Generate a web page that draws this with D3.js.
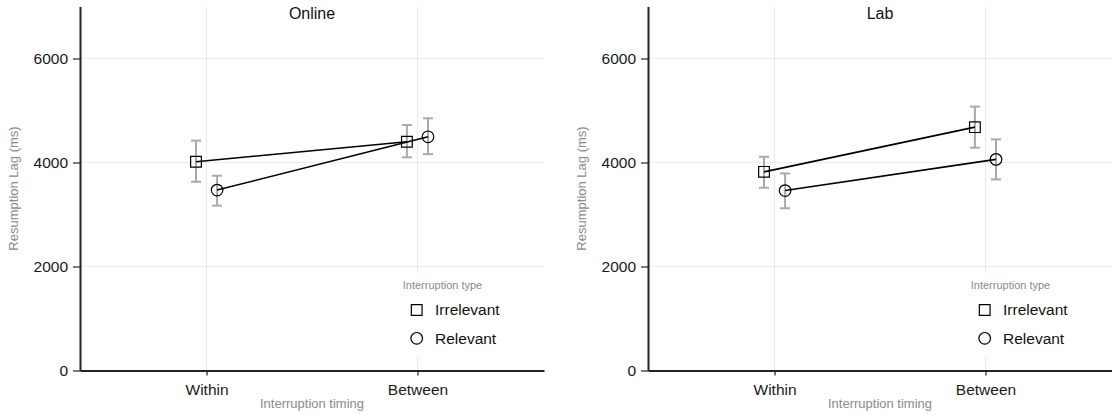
<!DOCTYPE html>
<html>
<head>
<meta charset="utf-8">
<script src="https://cdn.jsdelivr.net/npm/d3@7"></script>
<style>
  html, body { margin: 0; padding: 0; background: #fff; }
  svg { display: block; font-family: "Liberation Sans", Arial, Helvetica, sans-serif; }
</style>
</head>
<body>
<svg id="chart" width="1112" height="414"></svg>
<script>
// ---- data ----
const panels = ["Online", "Lab"];
const timings = ["Within", "Between"];
const types = ["Irrelevant", "Relevant"];
const yTicks = [0, 2000, 4000, 6000];

const onlineIrrMean = [4015, 4400];
const onlineIrrLow  = [3630, 4100];
const onlineIrrHigh = [4420, 4720];
const onlineRelMean = [3470, 4495];
const onlineRelLow  = [3170, 4160];
const onlineRelHigh = [3745, 4850];

const labIrrMean = [3820, 4680];
const labIrrLow  = [3515, 4285];
const labIrrHigh = [4110, 5075];
const labRelMean = [3460, 4060];
const labRelLow  = [3120, 3675];
const labRelHigh = [3790, 4445];

const seriesByPanel = {
  Online: [
    {type: "Irrelevant", mean: onlineIrrMean, low: onlineIrrLow, high: onlineIrrHigh},
    {type: "Relevant", mean: onlineRelMean, low: onlineRelLow, high: onlineRelHigh}
  ],
  Lab: [
    {type: "Irrelevant", mean: labIrrMean, low: labIrrLow, high: labIrrHigh},
    {type: "Relevant", mean: labRelMean, low: labRelLow, high: labRelHigh}
  ]
};

// ---- layout ----
const svg = d3.select("#chart");
const panelX = [80, 648];
const panelW = 464;
const yTop = 6.5, yBottom = 370.5;

const x = d3.scalePoint().domain(timings).range([0, panelW]).padding(0.6);
const y = d3.scaleLinear().domain([0, 7000]).range([yBottom, yTop]);
const dodge = d3.scaleOrdinal().domain(types).range([-0.05, 0.05]);
const symbolType = d3.scaleOrdinal().domain(types).range([d3.symbolSquare, d3.symbolCircle]);
const symbolSize = d3.scaleOrdinal().domain(types).range([115, 105]);

panels.forEach((p, pi) => {
  const g = svg.append("g").attr("transform", `translate(${panelX[pi]},0)`);
  const step = x.step();
  const px = (t, ty) => x(t) + dodge(ty) * step;

  // grid
  g.append("g").selectAll("line").data(yTicks.filter(d => d > 0)).join("line")
    .attr("x1", 0).attr("x2", panelW).attr("y1", d => y(d)).attr("y2", d => y(d))
    .attr("stroke", "#ebebeb").attr("stroke-width", 1);
  g.append("g").selectAll("line").data(timings).join("line")
    .attr("x1", d => x(d)).attr("x2", d => x(d)).attr("y1", yTop).attr("y2", yBottom)
    .attr("stroke", "#ebebeb").attr("stroke-width", 1);

  // legend background (covers grid)
  const lgX = 398 - 80, lgY = 273;
  g.append("rect").attr("x", lgX).attr("y", lgY).attr("width", 104).attr("height", 83)
    .attr("fill", "#fff");

  const series = seriesByPanel[p];

  // error bars
  series.forEach(s => {
    const eg = g.append("g").attr("stroke", "#aaaaaa").attr("stroke-width", 2).attr("fill", "none");
    timings.forEach((t, i) => {
      const cx = px(t, s.type);
      eg.append("line").attr("x1", cx).attr("x2", cx).attr("y1", y(s.low[i])).attr("y2", y(s.high[i]));
      eg.append("line").attr("x1", cx - 5).attr("x2", cx + 5).attr("y1", y(s.low[i])).attr("y2", y(s.low[i]));
      eg.append("line").attr("x1", cx - 5).attr("x2", cx + 5).attr("y1", y(s.high[i])).attr("y2", y(s.high[i]));
    });
  });

  // points
  series.forEach(s => {
    g.append("g").selectAll("path").data(timings).join("path")
      .attr("d", d3.symbol().type(symbolType(s.type)).size(symbolSize(s.type)))
      .attr("transform", (t, i) => `translate(${px(t, s.type)},${y(s.mean[i])})`)
      .attr("fill", "none").attr("stroke", "#000").attr("stroke-width", 1.2);
  });

  // lines
  const line = d3.line().x(d => d[0]).y(d => d[1]);
  series.forEach(s => {
    g.append("path")
      .datum(timings.map((t, i) => [px(t, s.type), y(s.mean[i])]))
      .attr("d", line).attr("fill", "none").attr("stroke", "#000").attr("stroke-width", 1.6);
  });

  // y axis
  const ya = g.append("g").call(d3.axisLeft(y).tickValues(yTicks).tickSize(7).tickPadding(5).tickSizeOuter(0).tickFormat(d3.format("d")));
  ya.select(".domain").attr("stroke", "#222").attr("stroke-width", 2);
  ya.selectAll(".tick line").attr("stroke", "#222").attr("stroke-width", 1.2);
  ya.selectAll(".tick text").attr("font-size", 15.5).attr("fill", "#1a1a1a")
    .attr("font-family", "'Liberation Sans', Arial, sans-serif");

  // x axis
  const xa = g.append("g").attr("transform", `translate(0,${yBottom})`)
    .call(d3.axisBottom(x).tickSize(5).tickPadding(8).tickSizeOuter(0));
  xa.select(".domain").attr("stroke", "#222").attr("stroke-width", 2);
  xa.selectAll(".tick line").attr("stroke", "#222").attr("stroke-width", 1.2);
  xa.selectAll(".tick text").attr("font-size", 15.5).attr("fill", "#1a1a1a")
    .attr("font-family", "'Liberation Sans', Arial, sans-serif");

  // titles
  g.append("text").attr("x", panelW / 2).attr("y", 19).attr("text-anchor", "middle")
    .attr("font-size", 16).attr("fill", "#111").text(p);
  g.append("text").attr("x", panelW / 2).attr("y", 408).attr("text-anchor", "middle")
    .attr("font-size", 13).attr("fill", "#8a8a8a").text("Interruption timing");
  g.append("text").attr("transform", `translate(-62.5,${(yTop + yBottom) / 2}) rotate(-90)`)
    .attr("text-anchor", "middle").attr("font-size", 13).attr("fill", "#8a8a8a").text("Resumption Lag (ms)");

  // legend
  const lg = g.append("g").attr("transform", `translate(${lgX},${lgY})`);
  lg.append("text").attr("x", 44.5).attr("y", 16).attr("text-anchor", "middle")
    .attr("font-size", 11).attr("fill", "#8a8a8a").text("Interruption type");
  types.forEach((ty, i) => {
    const yy = 37 + i * 28.3;
    lg.append("path").attr("d", d3.symbol().type(symbolType(ty)).size(symbolSize(ty))())
      .attr("transform", `translate(18.7,${yy})`)
      .attr("fill", "none").attr("stroke", "#000").attr("stroke-width", 1.2);
    lg.append("text").attr("x", 37).attr("y", yy + 5.3).attr("font-size", 15.5).attr("fill", "#111").text(ty);
  });
});
</script>
</body>
</html>
